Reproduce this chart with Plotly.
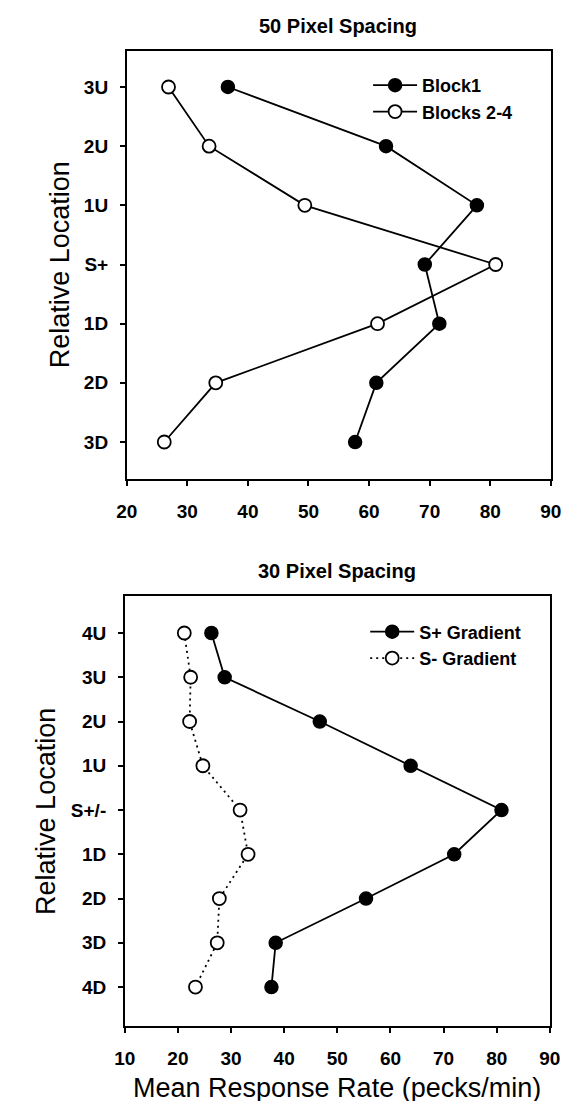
import plotly.graph_objects as go

# ---- data ----
top_locations = ["3U", "2U", "1U", "S+", "1D", "2D", "3D"]
block1 = [36.7, 62.8, 77.8, 69.2, 71.6, 61.2, 57.7]
blocks_2_4 = [26.9, 33.6, 49.4, 80.9, 61.4, 34.7, 26.2]

bottom_locations = ["4U", "3U", "2U", "1U", "S+/-", "1D", "2D", "3D", "4D"]
s_plus_gradient = [26.3, 28.8, 46.7, 63.8, 80.9, 72.0, 55.4, 38.4, 37.6]
s_minus_gradient = [21.2, 22.4, 22.2, 24.7, 31.7, 33.2, 27.8, 27.4, 23.3]

top_xticks = [20, 30, 40, 50, 60, 70, 80, 90]
bottom_xticks = [10, 20, 30, 40, 50, 60, 70, 80, 90]

FONT = "Liberation Sans, Arial, sans-serif"
W, H = 574, 1101


def px_x(p):
    return p / W


def px_y(p):
    return 1 - p / H


top_idx = list(range(len(top_locations)))
bot_idx = list(range(len(bottom_locations)))

LW = 1.8
marker_filled = dict(symbol="circle", size=13, color="black", line=dict(color="black", width=1.5))
marker_open = dict(symbol="circle", size=13, color="white", line=dict(color="black", width=1.8))

fig = go.Figure()
fig.add_trace(go.Scatter(x=block1, y=top_idx, mode="lines+markers", name="Block1",
                         line=dict(color="black", width=LW), marker=marker_filled,
                         xaxis="x", yaxis="y", legend="legend"))
fig.add_trace(go.Scatter(x=blocks_2_4, y=top_idx, mode="lines+markers", name="Blocks 2-4",
                         line=dict(color="black", width=LW), marker=marker_open,
                         xaxis="x", yaxis="y", legend="legend"))
fig.add_trace(go.Scatter(x=s_plus_gradient, y=bot_idx, mode="lines+markers", name="S+ Gradient",
                         line=dict(color="black", width=LW), marker=marker_filled,
                         xaxis="x2", yaxis="y2", legend="legend2"))
fig.add_trace(go.Scatter(x=s_minus_gradient, y=bot_idx, mode="lines+markers", name="S- Gradient",
                         line=dict(color="black", width=LW, dash="2px,4px"), marker=marker_open,
                         xaxis="x2", yaxis="y2", legend="legend2"))

tickfont = dict(family=FONT, size=19, color="black", weight="bold")
axis_common = dict(showline=True, linecolor="black", linewidth=1.5, mirror=True,
                   ticks="outside", ticklen=5, tickwidth=1.5, tickcolor="black",
                   showgrid=False, zeroline=False, tickfont=tickfont)

legend_font = dict(family=FONT, size=18, color="black", weight="bold")
title_font = dict(family=FONT, size=20, color="black", weight="bold")
axis_title_font = dict(family=FONT, size=27, color="black")


def label(text, x, y, font, angle=0):
    return dict(text=text, x=px_x(x), y=px_y(y), xref="paper", yref="paper",
                xanchor="center", yanchor="middle", showarrow=False,
                textangle=angle, font=font)


fig.update_layout(
    width=W, height=H,
    margin=dict(l=0, r=0, t=0, b=0),
    paper_bgcolor="white", plot_bgcolor="white",
    showlegend=True,
    xaxis=dict(domain=[px_x(112), px_x(553)], anchor="y", range=[20, 90],
               tickvals=top_xticks, ticklabelstandoff=9, **axis_common),
    yaxis=dict(domain=[px_y(471), px_y(43)], anchor="x", range=[6.625, -0.608],
               tickvals=top_idx, ticktext=top_locations, ticklabelstandoff=8,
               **axis_common),
    xaxis2=dict(domain=[px_x(110), px_x(552)], anchor="y2", range=[10, 90],
                tickvals=bottom_xticks, ticklabelstandoff=9, **axis_common),
    yaxis2=dict(domain=[px_y(1018), px_y(588)], anchor="x2", range=[8.88, -0.836],
                tickvals=bot_idx, ticktext=bottom_locations, ticklabelstandoff=8,
                **axis_common),
    legend=dict(x=px_x(363), y=px_y(90.5), xanchor="left", yanchor="middle",
                bgcolor="rgba(0,0,0,0)", borderwidth=0, tracegroupgap=0,
                font=legend_font, itemwidth=44),
    legend2=dict(x=px_x(360), y=px_y(637), xanchor="left", yanchor="middle",
                 bgcolor="rgba(0,0,0,0)", borderwidth=0, tracegroupgap=0,
                 font=legend_font, itemwidth=44),
    annotations=[
        label("50 Pixel Spacing", 332, 18, title_font),
        label("30 Pixel Spacing", 331, 563, title_font),
        label("Relative Location", 43, 257, axis_title_font, -90),
        label("Relative Location", 28, 803, axis_title_font, -90),
        label("Mean Response Rate (pecks/min)", 331, 1080, axis_title_font),
    ],
)

fig.write_html("out.html")
